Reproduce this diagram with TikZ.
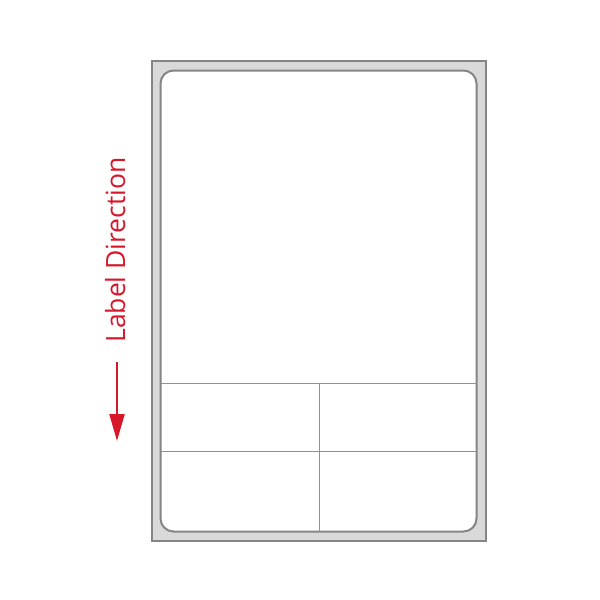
\documentclass[tikz,border=0pt]{standalone}
\usepackage{fontspec}
\setmainfont{Open Sans}
\usetikzlibrary{arrows.meta}
\definecolor{dirred}{HTML}{D7182A}
\definecolor{edgegray}{HTML}{858585}
\definecolor{linergray}{HTML}{D9D9D9}
\tikzset{
  sheet/.style={draw=edgegray, line width=2pt, fill=linergray},
  labelbox/.style={draw=edgegray, line width=2pt, fill=white, rounded corners=13pt},
  divider/.style={draw=edgegray!90, line width=1pt},
  dirtext/.style={text=dirred, font=\fontsize{26.5}{30}\selectfont, rotate=90, inner sep=0pt},
  dirarrow/.style={draw=dirred, line width=2.2pt, -{Triangle[length=27pt,width=15pt]}}
}
\begin{document}
\begin{tikzpicture}[x=1pt,y=-1pt]
\useasboundingbox (0,0) rectangle (600,600);
\fill[white] (0,0) rectangle (600,600);
\path[sheet] (151.5,60.5) rectangle (485.5,541);
\path[labelbox] (160.5,70.5) rectangle (476.5,531.5);
\coordinate (hl1) at (160.5,383.5);
\coordinate (hr1) at (476.5,383.5);
\coordinate (hl2) at (160.5,451.5);
\coordinate (hr2) at (476.5,451.5);
\coordinate (vt) at (319.5,383.5);
\coordinate (vb) at (319.5,531.5);
\draw[divider] (hl1) -- (hr1);
\draw[divider] (hl2) -- (hr2);
\draw[divider] (vt) -- (vb);
\node[dirtext, anchor=base] (dir) at (125,250) {Label Direction};
\coordinate (as) at (117,362);
\coordinate (ae) at (117,441);
\draw[dirarrow] (as) -- (ae);
\end{tikzpicture}
\end{document}
